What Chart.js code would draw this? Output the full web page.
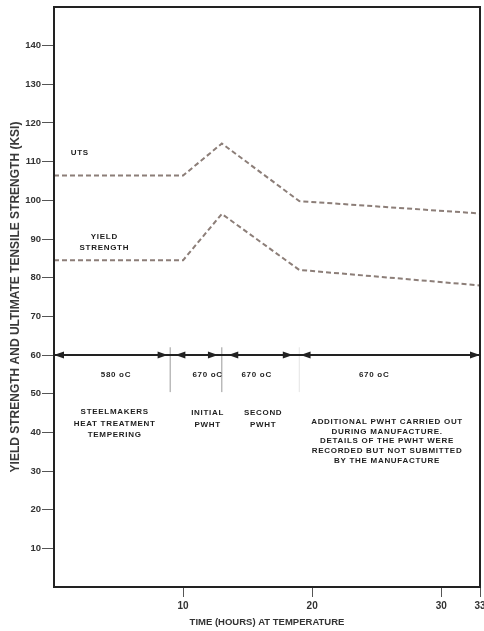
<!DOCTYPE html>
<html>
<head>
<meta charset="utf-8">
<script src="https://cdn.jsdelivr.net/npm/chart.js@4.4.1/dist/chart.umd.min.js"></script>
<style>
    html, body { margin: 0; padding: 0; background: #fff; }
    #wrap { width: 484px; height: 631px; }
</style>
</head>
<body>
<div id="wrap"><canvas id="chart"></canvas></div>
<script>
// Strength vs time at temperature
const timeHours = [0, 10, 13, 19, 33];
const utsKsi = [106.4, 106.4, 114.7, 99.8, 96.6];
const yieldKsi = [84.5, 84.5, 96.5, 82, 78];

const yTicks = [10, 20, 30, 40, 50, 60, 70, 80, 90, 100, 110, 120, 130, 140];
const xTicks = [10, 20, 30, 33];

// stage bar at 60 ksi: arrow spans and dividers (hours)
const stageLevel = 60;
const stageSpans = [[0, 8.8], [9.4, 12.7], [13.5, 18.5], [19.1, 33]];
const stageDividers = [9, 13, 19];
const dividerRange = [50.4, 62];

// text labels: [x hours, y ksi, lines]
const notes = [
    [2.0, 112.2, ['UTS']],
    [3.9, 90.6, ['YIELD', 'STRENGTH']],
    [4.8, 54.8, ['580 oC']],
    [11.9, 54.8, ['670 oC']],
    [15.7, 54.8, ['670 oC']],
    [24.8, 54.8, ['670 oC']],
    [4.7, 45.3, ['STEELMAKERS', 'HEAT TREATMENT', 'TEMPERING']],
    [11.9, 45.0, ['INITIAL', 'PWHT']],
    [16.2, 45.0, ['SECOND', 'PWHT']],
    [25.8, 42.7, ['ADDITIONAL PWHT CARRIED OUT', 'DURING MANUFACTURE.', 'DETAILS OF THE PWHT WERE', 'RECORDED BUT NOT SUBMITTED', 'BY THE MANUFACTURE']]
];

const FONT = "'Liberation Sans', Arial, sans-serif";
const pts = (ys) => timeHours.map((t, i) => ({ x: t, y: ys[i] }));

const datasets = [
    { data: pts(utsKsi), borderColor: '#8c7e78', borderWidth: 2, borderDash: [5, 3] },
    { data: pts(yieldKsi), borderColor: '#8c7e78', borderWidth: 2, borderDash: [5, 3] },
    { data: [{ x: 0, y: stageLevel }, { x: 33, y: stageLevel }], borderColor: '#222', borderWidth: 2 }
];
stageDividers.forEach((d, i) => {
    datasets.push({
        data: [{ x: d, y: dividerRange[0] }, { x: d, y: dividerRange[1] }],
        borderColor: i === 2 ? '#e4e4e4' : '#9a9a9a',
        borderWidth: 1
    });
});

const extras = {
    id: 'extras',
    afterDatasetsDraw(chart) {
        const { ctx, chartArea: a, scales: { x, y } } = chart;
        ctx.save();
        // arrow heads
        ctx.fillStyle = '#222';
        const py = y.getPixelForValue(stageLevel);
        stageSpans.forEach(([s, e]) => {
            const ps = x.getPixelForValue(s), pe = x.getPixelForValue(e);
            ctx.beginPath();
            ctx.moveTo(ps, py); ctx.lineTo(ps + 10, py - 3.5); ctx.lineTo(ps + 10, py + 3.5);
            ctx.closePath(); ctx.fill();
            ctx.beginPath();
            ctx.moveTo(pe, py); ctx.lineTo(pe - 10, py - 3.5); ctx.lineTo(pe - 10, py + 3.5);
            ctx.closePath(); ctx.fill();
        });
        // notes
        ctx.fillStyle = '#1e1e1e';
        ctx.textAlign = 'center';
        ctx.textBaseline = 'middle';
        ctx.font = 'bold 8px ' + FONT;
        ctx.letterSpacing = '0.7px';
        notes.forEach(([t, v, lines]) => {
            const lh = lines.length > 3 ? 9.7 : (lines[0] === 'YIELD' ? 11 : 11.5);
            lines.forEach((l, i) => ctx.fillText(l, x.getPixelForValue(t), y.getPixelForValue(v) + i * lh));
        });
        // frame
        ctx.strokeStyle = '#222';
        ctx.lineWidth = 2;
        ctx.strokeRect(a.left, a.top, a.right - a.left, a.bottom - a.top);
        ctx.restore();
    }
};

new Chart(document.getElementById('chart'), {
    type: 'line',
    data: { datasets },
    options: {
        responsive: true,
        maintainAspectRatio: false,
        animation: false,
        layout: { padding: { top: 7, right: 4, left: 0, bottom: 0 } },
        elements: { point: { radius: 0 }, line: { tension: 0 } },
        scales: {
            x: {
                type: 'linear',
                min: 0,
                max: 33,
                afterBuildTicks: (s) => { s.ticks = xTicks.map(v => ({ value: v })); },
                afterFit: (s) => { s.height = 44; s.paddingLeft = 0; s.paddingRight = 0; },
                border: { display: false },
                grid: { drawOnChartArea: false, tickLength: 10, color: '#555' },
                ticks: { color: '#333', padding: 3, font: { family: FONT, size: 10, weight: 'bold' } },
                title: {
                    display: true,
                    text: 'TIME (HOURS) AT TEMPERATURE',
                    color: '#333',
                    font: { family: FONT, size: 9.5, weight: 'bold' },
                    padding: { top: 0, bottom: 3 }
                }
            },
            y: {
                min: 0,
                max: 150,
                afterBuildTicks: (s) => { s.ticks = yTicks.map(v => ({ value: v })); },
                afterFit: (s) => { s.width = 54; s.paddingTop = 0; s.paddingBottom = 0; },
                border: { display: false },
                grid: { drawOnChartArea: false, tickLength: 12, color: '#555' },
                ticks: { color: '#333', padding: 1, font: { family: FONT, size: 9.5, weight: 'bold' } },
                title: {
                    display: true,
                    text: 'YIELD STRENGTH AND ULTIMATE TENSILE STRENGTH (KSI)',
                    color: '#3a3a3a',
                    font: { family: FONT, size: 12, weight: 'bold' },
                    padding: { top: 8, bottom: 0 }
                }
            }
        },
        plugins: { legend: { display: false }, tooltip: { enabled: false } }
    },
    plugins: [extras]
});
</script>
</body>
</html>
